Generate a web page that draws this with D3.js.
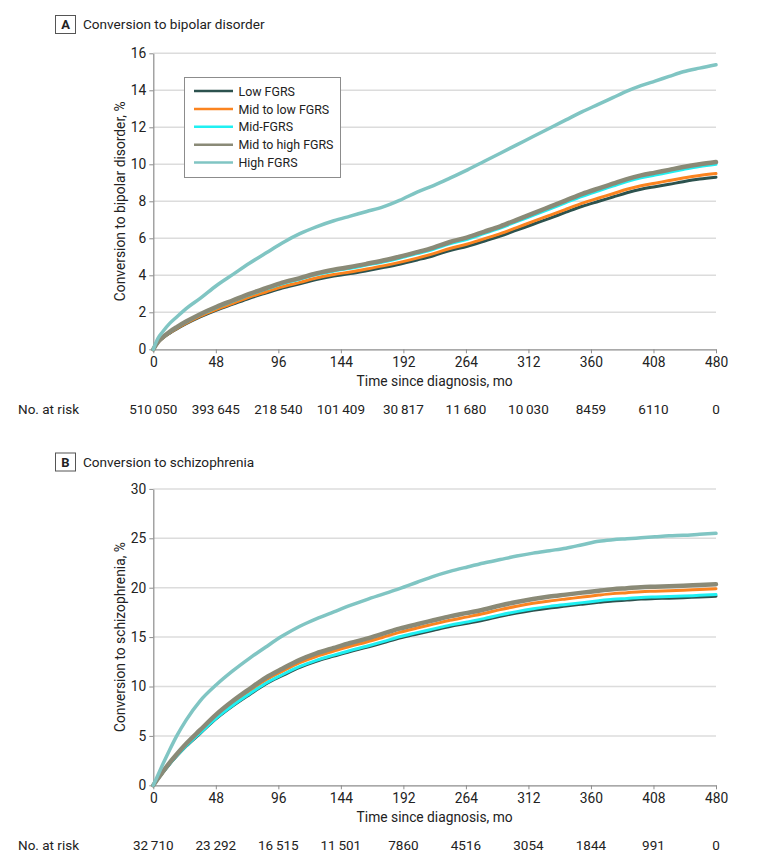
<!DOCTYPE html>
<html><head><meta charset="utf-8">
<script src="https://cdn.jsdelivr.net/npm/d3@7"></script>
<style>
body{margin:0;background:#fff}
svg text{font-family:Roboto,"Noto Sans",sans-serif;fill:#222}
</style>
</head><body><svg id="c" width="783" height="865"></svg>
<script>
// ---- data ----
const months = [0,4,8,14,20,28,40,54,68,82,96,110,125,139,154,168,182,196,210,225,239,253,268,282,296,310,324,338,352,366,380,392,404,416,428,440,452,466,480];
const seriesNames = ["Low FGRS","Mid to low FGRS","Mid-FGRS","Mid to high FGRS","High FGRS"];
const seriesColors = ["#2c524e","#fb8420","#1ff0f2","#8a8a77","#80c5c3"];
const seriesWidths = [3,3,3,4.5,3.5];

const bipolarLow     = [0,0.36,0.6,0.87,1.1,1.38,1.75,2.12,2.44,2.76,3.04,3.31,3.54,3.77,3.96,4.09,4.25,4.42,4.6,4.83,5.06,5.34,5.57,5.84,6.12,6.44,6.76,7.08,7.41,7.73,8.0,8.23,8.46,8.65,8.79,8.92,9.06,9.2,9.3];
const bipolarMidLow  = [0,0.37,0.61,0.89,1.13,1.41,1.79,2.16,2.49,2.82,3.1,3.38,3.62,3.85,4.04,4.18,4.34,4.51,4.7,4.93,5.17,5.45,5.69,5.97,6.25,6.58,6.91,7.24,7.57,7.9,8.18,8.41,8.65,8.84,8.98,9.12,9.26,9.4,9.5];
const bipolarMid     = [0,0.39,0.64,0.93,1.18,1.47,1.87,2.26,2.6,2.95,3.25,3.54,3.79,4.04,4.23,4.38,4.55,4.72,4.92,5.17,5.41,5.7,5.95,6.25,6.55,6.9,7.24,7.58,7.93,8.27,8.57,8.82,9.07,9.27,9.42,9.57,9.72,9.88,10.0];
const bipolarMidHigh = [0,0.4,0.65,0.95,1.2,1.5,1.9,2.3,2.65,3.0,3.3,3.6,3.85,4.1,4.3,4.45,4.62,4.8,5.0,5.25,5.5,5.8,6.05,6.35,6.65,7.0,7.35,7.7,8.05,8.4,8.7,8.95,9.2,9.4,9.55,9.7,9.85,10.0,10.12];
const bipolarHigh    = [0,0.6,0.95,1.4,1.75,2.2,2.75,3.45,4.05,4.65,5.2,5.75,6.25,6.62,6.95,7.2,7.45,7.7,8.05,8.5,8.85,9.25,9.7,10.15,10.6,11.05,11.5,11.95,12.4,12.85,13.25,13.6,13.95,14.25,14.5,14.75,15.0,15.2,15.38];

const schizoLow     = [0,0.65,1.27,2.16,2.96,3.95,5.26,6.77,8.04,9.17,10.25,11.09,11.94,12.55,13.07,13.54,13.96,14.42,14.9,15.32,15.7,16.07,16.4,16.73,17.1,17.44,17.72,17.95,18.14,18.33,18.52,18.66,18.75,18.85,18.9,18.94,18.99,19.07,19.13];
const schizoMidLow  = [0,0.68,1.32,2.25,3.08,4.11,5.48,7.04,8.36,9.54,10.65,11.53,12.41,13.04,13.58,14.07,14.51,14.99,15.48,15.92,16.31,16.7,17.05,17.39,17.78,18.12,18.42,18.66,18.86,19.05,19.25,19.4,19.5,19.6,19.65,19.7,19.75,19.83,19.9];
const schizoMid     = [0,0.66,1.28,2.18,2.99,3.98,5.31,6.83,8.1,9.24,10.33,11.19,12.04,12.65,13.18,13.65,14.08,14.54,15.03,15.45,15.83,16.21,16.54,16.87,17.25,17.58,17.87,18.11,18.3,18.49,18.68,18.82,18.91,19.01,19.06,19.1,19.15,19.23,19.3];
const schizoMidHigh = [0,0.7,1.35,2.3,3.15,4.2,5.6,7.2,8.55,9.75,10.9,11.8,12.7,13.35,13.9,14.4,14.85,15.35,15.85,16.3,16.7,17.1,17.45,17.8,18.2,18.55,18.85,19.1,19.3,19.5,19.7,19.85,19.95,20.05,20.1,20.15,20.2,20.28,20.35];
const schizoHigh    = [0,1.05,2.1,3.6,5.0,6.6,8.55,10.2,11.6,12.85,14.0,15.1,16.1,16.85,17.55,18.2,18.8,19.35,19.9,20.55,21.15,21.65,22.1,22.5,22.85,23.2,23.5,23.75,24.0,24.35,24.7,24.85,24.95,25.05,25.15,25.25,25.3,25.4,25.5];

const xTickLabels = ["0","48","96","144","192","264","312","360","408","480"];
const atRiskBipolar = [510050,393645,218540,101409,30817,11680,10030,8459,6110,0];
const atRiskSchizo  = [32710,23292,16515,11501,7860,4516,3054,1844,991,0];
const yTicksBipolar = [0,2,4,6,8,10,12,14,16];
const yTicksSchizo  = [0,5,10,15,20,25,30];

// ---- drawing ----
const svg = d3.select("#c");
svg.append("rect").attr("width",783).attr("height",865).attr("fill","#fff");

const X0 = 153.3, X1 = 716;
const x = d3.scaleLinear().domain([0,480]).range([X0,X1]);
const xTickVals = d3.range(10).map(i => i*480/9);

function fmt(n){
  const s = String(n);
  if (n >= 10000) return s.slice(0,s.length-3) + "\u2009" + s.slice(-3);
  return s;
}

function panel(o){
  const y = d3.scaleLinear().domain([0,o.yMax]).range([o.bottom,o.top]);
  const g = svg.append("g");
  // title
  g.append("rect").attr("x",55.5).attr("y",o.titleY-13.5).attr("width",20).attr("height",18)
    .attr("fill","none").attr("stroke","#555").attr("stroke-width",1);
  g.append("text").attr("x",65.5).attr("y",o.titleY).attr("text-anchor","middle")
    .attr("font-weight","bold").attr("font-size",13).text(o.letter);
  g.append("text").attr("x",83).attr("y",o.titleY).attr("font-size",13.6).text(o.title);
  // grid
  g.append("g").selectAll("line").data(o.yTicks.filter(d=>d>0)).join("line")
    .attr("x1",X0).attr("x2",X1).attr("y1",d=>y(d)).attr("y2",d=>y(d))
    .attr("stroke","#dcdcdc").attr("stroke-width",1.5);
  // y axis
  const ya = g.append("g").attr("transform",`translate(${X0},0)`)
    .call(d3.axisLeft(y).tickValues(o.yTicks).tickSize(4).tickSizeOuter(0).tickPadding(3));
  ya.select(".domain").attr("stroke","#8c8c8c").attr("stroke-width",1.2);
  ya.selectAll(".tick line").attr("stroke","#8c8c8c");
  ya.selectAll(".tick text").attr("font-size",13.8).attr("fill","#222");
  // x axis
  const xa = g.append("g").attr("transform",`translate(0,${o.bottom})`)
    .call(d3.axisBottom(x).tickValues(xTickVals).tickFormat((d,i)=>xTickLabels[i]).tickSize(4).tickSizeOuter(0).tickPadding(4));
  xa.select(".domain").attr("stroke","#8c8c8c").attr("stroke-width",1.2);
  xa.selectAll(".tick line").attr("stroke","#8c8c8c");
  xa.selectAll(".tick text").attr("font-size",13.8).attr("fill","#222");
  // axis titles
  g.append("text").attr("transform",`translate(125,${(o.top+o.bottom)/2}) rotate(-90)`)
    .attr("text-anchor","middle").attr("font-size",13.8).text(o.yTitle);
  g.append("text").attr("x",(X0+X1)/2).attr("y",o.bottom+37).attr("text-anchor","middle")
    .attr("font-size",13.8).text("Time since diagnosis, mo");
  // lines
  const line = d3.line().x((d,i)=>x(months[i])).y(d=>y(d)).curve(d3.curveMonotoneX);
  o.series.forEach((s,k)=>{
    g.append("path").datum(s).attr("d",line).attr("fill","none")
      .attr("stroke",seriesColors[k]).attr("stroke-width",seriesWidths[k])
      .attr("stroke-linejoin","round").attr("stroke-linecap","round");
  });
  // at risk
  g.append("text").attr("x",18).attr("y",o.bottom+65).attr("font-size",13.5).text("No. at risk");
  g.append("g").selectAll("text").data(o.atRisk).join("text")
    .attr("x",(d,i)=>x(xTickVals[i])).attr("y",o.bottom+65).attr("text-anchor","middle")
    .attr("font-size",13.5).text(d=>fmt(d));
  return {g,y};
}

panel({letter:"A", title:"Conversion to bipolar disorder", titleY:29,
  top:53.3, bottom:349.3, yMax:16, yTicks:yTicksBipolar,
  yTitle:"Conversion to bipolar disorder, %",
  series:[bipolarLow,bipolarMidLow,bipolarMid,bipolarMidHigh,bipolarHigh], atRisk:atRiskBipolar});
panel({letter:"B", title:"Conversion to schizophrenia", titleY:466.5,
  top:488.9, bottom:785.3, yMax:30, yTicks:yTicksSchizo,
  yTitle:"Conversion to schizophrenia, %",
  series:[schizoLow,schizoMidLow,schizoMid,schizoMidHigh,schizoHigh], atRisk:atRiskSchizo});

// legend
const lg = svg.append("g");
lg.append("rect").attr("x",184.5).attr("y",77.5).attr("width",156).attr("height",100)
  .attr("fill","#fff").attr("stroke","#8c8c8c").attr("stroke-width",1);
seriesNames.forEach((n,k)=>{
  const yy = 91 + k*17.9;
  lg.append("line").attr("x1",194).attr("x2",233).attr("y1",yy).attr("y2",yy)
    .attr("stroke",seriesColors[k]).attr("stroke-width",2.5);
  lg.append("text").attr("x",238.5).attr("y",yy+4.6).attr("font-size",12.4).text(n);
});
</script>
</body></html>
